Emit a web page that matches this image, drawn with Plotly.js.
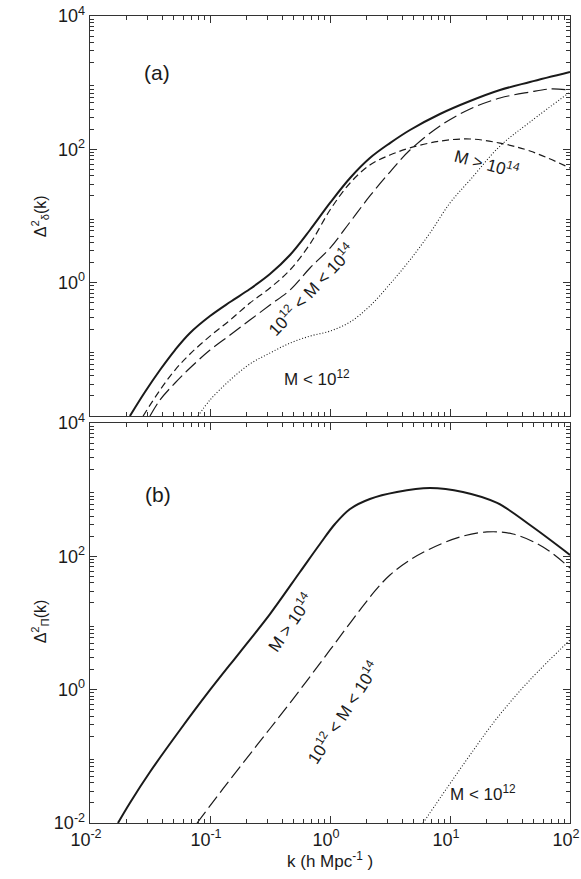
<!DOCTYPE html>
<html><head><meta charset="utf-8">
<script src="https://cdn.plot.ly/plotly-3.0.1.min.js"></script>
<style>html,body{margin:0;padding:0;background:#fff;}#chart{width:581px;height:879px;}</style>
</head><body><div id="chart"></div>
<script>
// ---------- Panel (a): Delta^2_delta(k) ----------
const kA_all = [0.0215, 0.0287, 0.0383, 0.0511, 0.0681, 0.1, 0.147, 0.215, 0.316, 0.464, 0.681, 1.0, 1.47, 2.15, 3.16, 4.64, 8.25, 14.7, 26.1, 46.4, 100];
const vA_all = [0.01, 0.0229, 0.049, 0.0977, 0.176, 0.316, 0.513, 0.804, 1.35, 2.6, 6.17, 15.7, 37.2, 74.1, 124, 195, 339, 531, 776, 1023, 1445];

const kA_high = [0.0277, 0.0383, 0.0511, 0.0681, 0.1, 0.147, 0.215, 0.316, 0.464, 0.681, 1.0, 1.47, 2.15, 3.16, 4.64, 8.25, 14.7, 26.1, 46.4, 100];
const vA_high = [0.01, 0.0245, 0.049, 0.0851, 0.158, 0.275, 0.495, 0.832, 1.55, 3.8, 12.3, 31.3, 58.2, 82.2, 105, 133, 143, 124, 94.4, 52.5];

const kA_mid = [0.0316, 0.0383, 0.0511, 0.0681, 0.1, 0.147, 0.215, 0.316, 0.464, 0.681, 1.0, 1.47, 2.15, 3.16, 4.64, 8.25, 14.7, 26.1, 46.4, 68.1, 100];
const vA_mid = [0.01, 0.0174, 0.0313, 0.0525, 0.0977, 0.164, 0.275, 0.462, 0.776, 1.66, 3.31, 8.13, 20.0, 45.7, 97.7, 224, 403, 589, 724, 804, 776];

const kA_low = [0.0794, 0.1, 0.147, 0.215, 0.316, 0.464, 0.681, 1.0, 1.47, 2.15, 3.16, 4.64, 6.81, 10.0, 14.7, 26.1, 46.4, 100];
const vA_low = [0.01, 0.0174, 0.0347, 0.0603, 0.0881, 0.124, 0.158, 0.188, 0.257, 0.447, 0.955, 2.19, 5.56, 15.7, 34.7, 112, 257, 724];

// ---------- Panel (b): Delta^2_Pi(k) ----------
const kB_high = [0.0171, 0.0215, 0.0316, 0.0562, 0.1, 0.178, 0.316, 0.562, 0.825, 1.1, 1.47, 2.15, 3.61, 6.81, 12.8, 24.7, 46.4, 100];
const vB_high = [0.01, 0.02, 0.0582, 0.248, 0.989, 3.67, 13.6, 58.2, 153, 305, 513, 724, 923, 1059, 923, 631, 295, 105];

const kB_mid = [0.078, 0.128, 0.247, 0.464, 1.0, 1.33, 1.78, 2.37, 3.16, 4.64, 6.81, 12.1, 20.3, 33.5, 59.6, 100];
const vB_mid = [0.01, 0.0324, 0.148, 0.631, 3.94, 7.85, 15.7, 30.2, 52.5, 88.1, 129, 195, 232, 216, 138, 66.8];

const kB_low = [5.96, 9.44, 14.7, 24.7, 46.4, 100];
const vB_low = [0.01, 0.0335, 0.105, 0.376, 1.4, 5.56];

// ---------- tick labels ----------
const xTickVals = [0.01, 0.1, 1, 10, 100];
const xTickText = ['10<sup>-2</sup>', '10<sup>-1</sup>', '10<sup>0</sup>', '10<sup>1</sup>', '10<sup>2</sup>'];
const yTickValsA = [1, 100, 10000];
const yTickTextA = ['10<sup>0</sup>', '10<sup>2</sup>', '10<sup>4</sup>'];
const yTickValsB = [0.01, 1, 100, 10000];
const yTickTextB = ['10<sup>-2</sup>', '10<sup>0</sup>', '10<sup>2</sup>', '10<sup>4</sup>'];
const yOddDecades = [0.1, 10, 1000];

function minorVals(lo, hi) {
  const out = [];
  for (let e = lo; e < hi; e++) for (let m = 2; m <= 9; m++) out.push(m * Math.pow(10, e));
  return out;
}

const INK = '#1a1a1a';
const AX = '#333';
function line(k, v, dash, width, xa, ya) {
  return {x: k, y: v, xaxis: xa, yaxis: ya, type: 'scatter', mode: 'lines',
          line: {color: INK, width: width, dash: dash, shape: 'spline', smoothing: 1.0},
          hoverinfo: 'skip', showlegend: false};
}

const traces = [
  line(kA_all, vA_all, 'solid', 2, 'x2', 'y2'),
  line(kA_high, vA_high, '7px,4px', 1.2, 'x2', 'y2'),
  line(kA_mid, vA_mid, '14px,5px', 1.2, 'x2', 'y2'),
  line(kA_low, vA_low, '1px,2px', 1.1, 'x2', 'y2'),
  line(kB_high, vB_high, 'solid', 2, 'x', 'y'),
  line(kB_mid, vB_mid, '14px,5px', 1.2, 'x', 'y'),
  line(kB_low, vB_low, '1px,2px', 1.1, 'x', 'y')
];

const FONT = 'Liberation Sans, Arial, Helvetica, sans-serif';
const tickFont = {family: FONT, size: 18, color: INK};
function xAxis(anchor, showLabels) {
  return {type: 'log', range: [-2, 2], anchor: anchor, domain: [0, 1],
    tickmode: 'array', tickvals: xTickVals, ticktext: xTickText, showticklabels: showLabels,
    ticklabeloverflow: 'allow', ticklabelshift: -4,
    ticks: 'inside', ticklen: 7, tickwidth: 1, tickcolor: AX,
    minor: {tickvals: minorVals(-2, 2), ticks: 'inside', ticklen: 4, tickwidth: 1, tickcolor: AX},
    mirror: 'allticks', showline: true, linecolor: AX, linewidth: 1.3,
    showgrid: false, zeroline: false, tickfont: tickFont};
}
function yAxis(anchor, domain, vals, text) {
  return {type: 'log', range: [-2, 4], anchor: anchor, domain: domain,
    tickmode: 'array', tickvals: vals, ticktext: text, ticklabeloverflow: 'allow',
    ticks: 'inside', ticklen: 7, tickwidth: 1, tickcolor: AX,
    minor: {tickvals: minorVals(-2, 4), ticks: 'inside', ticklen: 4, tickwidth: 1, tickcolor: AX},
    mirror: 'allticks', showline: true, linecolor: AX, linewidth: 1.3,
    showgrid: false, zeroline: false, tickfont: tickFont};
}
function yOverlay(over, anchor) {
  return {type: 'log', range: [-2, 4], overlaying: over, anchor: anchor, side: 'left',
    tickmode: 'array', tickvals: yOddDecades, showticklabels: false,
    ticks: 'inside', ticklen: 7, tickwidth: 1, tickcolor: AX,
    mirror: 'ticks', showline: false, showgrid: false, zeroline: false};
}

function ann(text, x, y, xr, yr, angle, size) {
  return {text: text, x: x, y: y, xref: xr, yref: yr, showarrow: false, textangle: angle || 0,
          font: {family: FONT, size: size || 17, color: INK}, xanchor: 'center', yanchor: 'middle'};
}

const layout = {
  width: 581, height: 879,
  margin: {l: 90, r: 11, t: 16, b: 56},
  paper_bgcolor: '#fff', plot_bgcolor: '#fff',
  xaxis: xAxis('y', true),
  xaxis2: xAxis('y2', false),
  yaxis: yAxis('x', [0, 0.4957], yTickValsB, yTickTextB),
  yaxis2: yAxis('x2', [0.5043, 1], yTickValsA, yTickTextA),
  yaxis3: yOverlay('y', 'x'),
  yaxis4: yOverlay('y2', 'x2'),
  annotations: [
    ann('(a)', -1.44, 3.16, 'x2', 'y2', 0, 21),
    ann('M &gt; 10<sup>14</sup>', 1.31, 1.795, 'x2', 'y2', 15),
    ann('10<sup>12</sup> &lt; M &lt; 10<sup>14</sup>', -0.158, -0.095, 'x2', 'y2', -47),
    ann('M &lt; 10<sup>12</sup>', -0.108, -1.43, 'x2', 'y2', 0),
    ann('(b)', -1.43, 2.92, 'x', 'y', 0, 21),
    ann('M &gt; 10<sup>14</sup>', -0.333, 1.015, 'x', 'y', -55),
    ann('10<sup>12</sup> &lt; M &lt; 10<sup>14</sup>', 0.108, -0.335, 'x', 'y', -57),
    ann('M &lt; 10<sup>12</sup>', 1.275, -1.55, 'x', 'y', 0),
    ann('Δ<sup>2</sup><sub>δ</sub>(k)', -0.104, 0.752, 'paper', 'paper', -90, 16),
    ann('Δ<sup>2</sup><sub>Π</sub>(k)', -0.104, 0.25, 'paper', 'paper', -90, 16),
    ann('k (h Mpc<sup>-1</sup> )', 0.5, -0.046, 'paper', 'paper', 0, 17)
  ]
};

Plotly.newPlot('chart', traces, layout, {staticPlot: true, displayModeBar: false});
</script>
</body></html>
